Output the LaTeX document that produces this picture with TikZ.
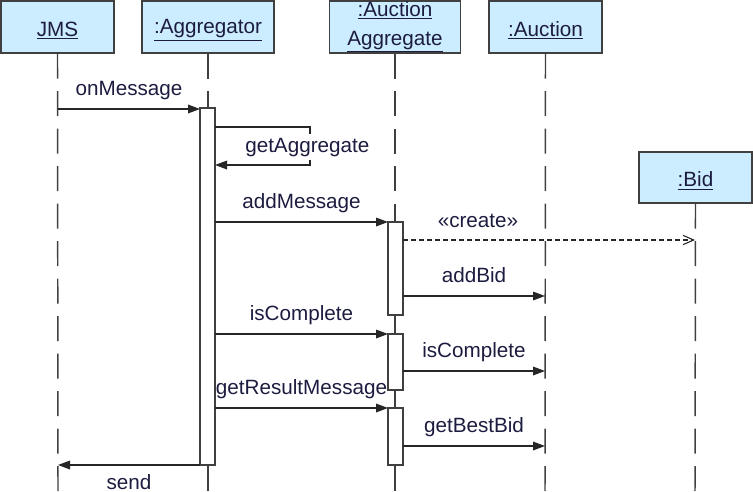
\documentclass[tikz,border=0pt]{standalone}
\usepackage{fontspec}
\setmainfont{Liberation Sans}
\usetikzlibrary{arrows.meta}
\definecolor{boxfill}{RGB}{204,236,255}
\definecolor{txt}{RGB}{28,28,64}
\definecolor{edge}{RGB}{64,64,64}
\tikzset{
  obj/.style={draw=edge, line width=1.1pt, fill=boxfill, rectangle, inner sep=0pt, text=txt, align=center},
  life/.style={draw=edge, line width=1.1pt, dash pattern=on 18.75pt off 9.375pt},
  bar/.style={draw=edge, line width=1pt, fill=white, rectangle, inner sep=0pt, minimum width=11.25pt},
  msg/.style={draw=black!85, line width=0.9pt, -{Triangle[length=9pt,width=6.5pt]}},
  createmsg/.style={draw=black!85, line width=0.8pt, dash pattern=on 3.75pt off 2.25pt, -{Straight Barb[length=8pt,width=7pt]}},
  lbl/.style={text=txt, anchor=base, inner sep=0pt}
}
\newcommand{\ulbox}[1]{\raisebox{-2.5pt}[\height][\depth]{\underline{#1}}}
\begin{document}
\begin{tikzpicture}[x=0.75pt, y=-0.75pt, font=\fontsize{15.5}{18}\selectfont]
\useasboundingbox (0,0) rectangle (753,492);

% lifeline ends
\coordinate (jmsend) at (58,492);
\coordinate (aggend) at (208,492);
\coordinate (aaend) at (395,492);
\coordinate (aucend) at (545,492);
\coordinate (bidend) at (695,492);

% object boxes
\node[obj, minimum width=84.75pt, minimum height=39pt] (jms) at (57.5,27) {\ulbox{JMS}};
\node[obj, minimum width=99pt, minimum height=39pt] (agg) at (208,27) {\ulbox{:Aggregator}};
\node[obj, minimum width=98.25pt, minimum height=39pt, font=\fontsize{15.5}{21.5}\selectfont] (aa) at (395,27) {\underline{:Auction}\\\underline{Aggregate}};
\node[obj, minimum width=84.75pt, minimum height=39pt] (auc) at (545.5,27) {\ulbox{:Auction}};
\node[obj, minimum width=84.75pt, minimum height=38.25pt] (bid) at (695.5,177.5) {\ulbox{:Bid}};

% lifelines
\draw[life] (jms.south) -- (jmsend);
\draw[life] (agg.south) -- (aggend);
\draw[life] (aa.south) -- (aaend);
\draw[life] (auc.south) -- (aucend);
\draw[life] (bid.south) -- (bidend);

% activation bars
\node[bar, minimum height=267.75pt] (aggbar) at (207.5,286.5) {};
\node[bar, minimum height=69.75pt] (aabar1) at (395.5,268.5) {};
\node[bar, minimum height=42pt] (aabar2) at (395.5,362) {};
\node[bar, minimum height=42.75pt] (aabar3) at (395.5,436.5) {};

% message endpoints
\coordinate (m1s) at (58,109);   \coordinate (m1e) at (200,109);
\coordinate (m2s) at (215,127);  \coordinate (m2a) at (310,127);
\coordinate (m2b) at (310,165);  \coordinate (m2e) at (215,165);
\coordinate (m3s) at (215,222);  \coordinate (m3e) at (388,222);
\coordinate (m4s) at (403,240);  \coordinate (m4e) at (695,240);
\coordinate (m5s) at (403,296);  \coordinate (m5e) at (545,296);
\coordinate (m6s) at (215,334);  \coordinate (m6e) at (388,334);
\coordinate (m7s) at (403,371);  \coordinate (m7e) at (545,371);
\coordinate (m8s) at (215,408);  \coordinate (m8e) at (388,408);
\coordinate (m9s) at (403,446);  \coordinate (m9e) at (545,446);
\coordinate (m10s) at (200,465); \coordinate (m10e) at (58,465);

% messages
\draw[msg] (m1s) -- node[lbl, yshift=10.5pt]{onMessage} (m1e);
\draw[msg] (m2s) -- (m2a) -- (m2b) -- (m2e);
\node[lbl, anchor=base west, fill=white, inner xsep=0pt, inner ysep=3pt] (l2) at (245,152) {getAggregate};
\draw[msg] (m3s) -- node[lbl, yshift=10.5pt]{addMessage} (m3e);
\draw[createmsg] (m4s) -- (m4e);
\node[lbl] (l4) at (478,227) {«create»};
\draw[msg] (m5s) -- node[lbl, yshift=10pt]{addBid} (m5e);
\draw[msg] (m6s) -- node[lbl, yshift=10.5pt]{isComplete} (m6e);
\draw[msg] (m7s) -- node[lbl, yshift=10.5pt]{isComplete} (m7e);
\draw[msg] (m8s) -- node[lbl, yshift=10.5pt]{getResultMessage} (m8e);
\draw[msg] (m9s) -- node[lbl, yshift=10.5pt]{getBestBid} (m9e);
\draw[msg] (m10s) -- node[lbl, yshift=-18pt]{send} (m10e);
\end{tikzpicture}
\end{document}
